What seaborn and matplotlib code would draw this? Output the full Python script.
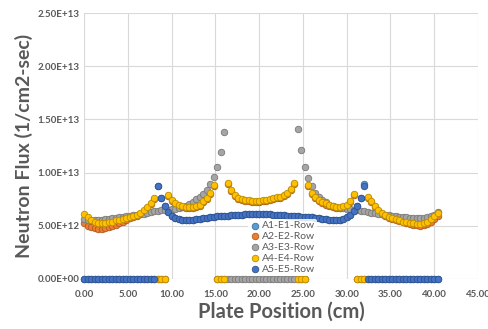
import matplotlib
matplotlib.use('Agg')
import matplotlib.pyplot as plt
import seaborn as sns
import pandas as pd
from matplotlib.ticker import FuncFormatter, MultipleLocator

# plate positions (cm)
plate_pos = [
    0.0, 0.4, 0.8, 1.2, 1.6, 2.0, 2.4, 2.8, 3.2, 3.6,
    4.0, 4.4, 4.8, 5.2, 5.6, 6.0, 6.4, 6.8, 7.2, 7.6,
    8.0, 8.4, 8.8, 9.2, 9.6, 10.0, 10.4, 10.8, 11.2, 11.6,
    12.0, 12.4, 12.8, 13.2, 13.6, 14.0, 14.4, 14.8, 15.2, 15.6,
    16.0, 16.4, 16.8, 17.2, 17.6, 18.0, 18.4, 18.8, 19.2, 19.6,
    20.0, 20.4, 20.8, 21.2, 21.6, 22.0, 22.4, 22.8, 23.2, 23.6,
    24.0, 24.4, 24.8, 25.2, 25.6, 26.0, 26.4, 26.8, 27.2, 27.6,
    28.0, 28.4, 28.8, 29.2, 29.6, 30.0, 30.4, 30.8, 31.2, 31.6,
    32.0, 32.4, 32.8, 33.2, 33.6, 34.0, 34.4, 34.8, 35.2, 35.6,
    36.0, 36.4, 36.8, 37.2, 37.6, 38.0, 38.4, 38.8, 39.2, 39.6,
    40.0, 40.4]

# neutron flux, units of 1E12 /cm2-sec
a1_e1 = [
    0, 0, 0, 0, 0, 0, 0, 0, 0, 0,
    0, 0, 0, 0, 0, 0, 0, 0, 0, 0,
    0, 8.75, 7.6, 6.9, 6.3, 5.95, 5.75, 5.6, 5.55, 5.55,
    5.55, 5.55, 5.6, 5.65, 5.7, 5.75, 5.8, 5.85, 5.9, 5.9,
    5.95, 5.95, 6.0, 6.0, 6.05, 6.05, 6.1, 6.1, 6.15, 6.15,
    6.15, 6.15, 6.1, 6.1, 6.05, 6.05, 6.0, 6.0, 5.95, 5.95,
    5.9, 5.9, 5.85, 5.85, 5.8, 5.8, 5.75, 5.7, 5.65, 5.6,
    5.55, 5.5, 5.5, 5.55, 5.65, 5.85, 6.05, 6.35, 6.85, 7.6,
    8.95, 0, 0, 0, 0, 0, 0, 0, 0, 0,
    0, 0, 0, 0, 0, 0, 0, 0, 0, 0,
    0, 0]

a2_e2 = [
    5.3, 5.0, 4.85, 4.75, 4.7, 4.7, 4.75, 4.85, 5.0, 5.1,
    5.25, 5.4, 5.55, 5.7, 5.85, 5.95, 6.15, 6.4, 6.7, 7.05,
    7.5, 0, 0, 0, 7.8, 7.3, 7.05, 6.85, 6.75, 6.65,
    6.65, 6.7, 6.75, 6.9, 7.2, 7.5, 8.0, 8.7, 0, 0,
    0, 8.9, 8.3, 7.8, 7.55, 7.4, 7.35, 7.3, 7.25, 7.25,
    7.25, 7.3, 7.35, 7.45, 7.5, 7.6, 7.65, 7.8, 8.0, 8.4,
    8.95, 0, 0, 0, 8.7, 8.0, 7.6, 7.3, 7.15, 7.0,
    6.85, 6.75, 6.7, 6.7, 6.75, 6.9, 7.2, 7.85, 0, 0,
    0, 7.65, 7.2, 6.8, 6.4, 6.1, 5.9, 5.75, 5.6, 5.5,
    5.45, 5.35, 5.25, 5.15, 5.1, 5.05, 5.0, 5.05, 5.15, 5.35,
    5.6, 5.9]

a3_e3 = [
    5.6, 5.55, 5.5, 5.5, 5.5, 5.55, 5.6, 5.65, 5.7, 5.75,
    5.8, 5.85, 5.9, 5.95, 6.0, 6.05, 6.1, 6.15, 6.2, 6.3,
    6.35, 6.4, 6.45, 6.5, 6.5, 6.55, 6.6, 6.65, 6.75, 6.9,
    7.05, 7.25, 7.5, 7.75, 8.0, 8.4, 8.9, 9.6, 10.5, 11.9,
    13.8, 0, 0, 0, 0, 0, 0, 0, 0, 0,
    0, 0, 0, 0, 0, 0, 0, 0, 0, 0,
    0, 14.1, 12.1, 10.5, 9.5, 8.7, 8.1, 7.7, 7.4, 7.2,
    7.0, 6.9, 6.8, 6.7, 6.65, 6.6, 6.55, 6.5, 6.45, 6.4,
    6.35, 6.3, 6.25, 6.2, 6.15, 6.1, 6.05, 6.0, 5.95, 5.9,
    5.85, 5.8, 5.8, 5.75, 5.75, 5.75, 5.75, 5.75, 5.8, 5.9,
    6.05, 6.3]

a4_e4 = [
    6.1, 5.8, 5.5, 5.35, 5.3, 5.3, 5.3, 5.35, 5.4, 5.5,
    5.55, 5.65, 5.75, 5.8, 5.9, 6.0, 6.2, 6.45, 6.75, 7.1,
    7.6, 0, 0, 0, 7.9, 7.4, 7.15, 6.95, 6.85, 6.75,
    6.75, 6.8, 6.85, 7.0, 7.3, 7.6, 8.1, 8.8, 0, 0,
    0, 9.0, 8.4, 7.9, 7.65, 7.5, 7.45, 7.4, 7.35, 7.35,
    7.35, 7.4, 7.45, 7.55, 7.6, 7.7, 7.75, 7.9, 8.1, 8.5,
    9.05, 0, 0, 0, 8.8, 8.1, 7.7, 7.4, 7.25, 7.1,
    6.95, 6.85, 6.8, 6.8, 6.85, 7.0, 7.3, 7.95, 0, 0,
    0, 7.75, 7.3, 6.9, 6.5, 6.2, 6.0, 5.85, 5.7, 5.6,
    5.5, 5.4, 5.35, 5.3, 5.25, 5.2, 5.2, 5.25, 5.4, 5.6,
    5.9, 6.2]

a5_e5 = [
    0, 0, 0, 0, 0, 0, 0, 0, 0, 0,
    0, 0, 0, 0, 0, 0, 0, 0, 0, 0,
    0, 8.7, 7.6, 6.9, 6.3, 5.95, 5.75, 5.6, 5.55, 5.55,
    5.55, 5.55, 5.6, 5.65, 5.7, 5.75, 5.8, 5.85, 5.9, 5.9,
    5.95, 5.95, 6.0, 6.0, 6.05, 6.05, 6.1, 6.1, 6.15, 6.15,
    6.15, 6.15, 6.1, 6.1, 6.05, 6.05, 6.0, 6.0, 5.95, 5.95,
    5.9, 5.9, 5.85, 5.85, 5.8, 5.8, 5.75, 5.7, 5.65, 5.6,
    5.55, 5.5, 5.5, 5.55, 5.65, 5.85, 6.05, 6.35, 6.85, 7.6,
    8.7, 0, 0, 0, 0, 0, 0, 0, 0, 0,
    0, 0, 0, 0, 0, 0, 0, 0, 0, 0,
    0, 0]

series_names = ['A1-E1-Row', 'A2-E2-Row', 'A3-E3-Row', 'A4-E4-Row', 'A5-E5-Row']
series_vals = [a1_e1, a2_e2, a3_e3, a4_e4, a5_e5]
fill_colors = ['#5B9BD5', '#ED7D31', '#A5A5A5', '#FFC000', '#4472C4']
edge_colors = ['#41719C', '#AE5A21', '#787878', '#BC8C00', '#2F528F']

sns.set_style('white')
plt.rcParams['font.family'] = ['Lato', 'DejaVu Sans']
text_color = '#595959'

fig = plt.figure(figsize=(4.89, 3.29), dpi=100)
ax = fig.add_axes([84 / 489, 1 - 279 / 329, 394 / 489, 266 / 329])

for name, vals, fc, ec in zip(series_names, series_vals, fill_colors, edge_colors):
    d = pd.DataFrame({'pos': plate_pos, 'flux': [v * 1e12 for v in vals]})
    sns.scatterplot(data=d, x='pos', y='flux', ax=ax, color=fc, edgecolor=ec,
                    linewidth=0.6, s=22, label=name, clip_on=False, zorder=3)

ax.set_xlim(0, 45)
ax.set_ylim(0, 2.5e13)
ax.xaxis.set_major_locator(MultipleLocator(5))
ax.yaxis.set_major_locator(MultipleLocator(5e12))
ax.xaxis.set_major_formatter(FuncFormatter(lambda v, p: f'{v:.2f}'))
ax.yaxis.set_major_formatter(FuncFormatter(lambda v, p: f'{v:.2E}'))
ax.grid(True, color='#D9D9D9', linewidth=0.8)
ax.set_axisbelow(True)
for sp in ax.spines.values():
    sp.set_visible(False)
ax.tick_params(axis='both', length=0, labelsize=7, labelcolor=text_color)
ax.tick_params(axis='x', pad=8)
ax.tick_params(axis='y', pad=3)
for lab in ax.get_xticklabels() + ax.get_yticklabels():
    lab.set_fontweight('bold')

ax.set_xlabel('Plate Position (cm)', fontsize=14.5, fontweight='bold', color=text_color, va='top')
ax.xaxis.set_label_coords(0.5, -0.085)
ax.set_ylabel('Neutron Flux (1/cm2-sec)', fontsize=14, fontweight='bold', color=text_color)
ax.yaxis.set_label_coords(-0.13, 0.5)

leg = ax.legend(loc='upper left', bbox_to_anchor=(248 / 489, 1 - 219 / 329),
                bbox_transform=fig.transFigure, frameon=True, framealpha=0.85,
                edgecolor='none', fontsize=7.5, labelspacing=0.15, handletextpad=0.1,
                borderpad=0.2, handlelength=1.0, borderaxespad=0)
for t in leg.get_texts():
    t.set_color(text_color)

fig.savefig('out.png', dpi=100)
